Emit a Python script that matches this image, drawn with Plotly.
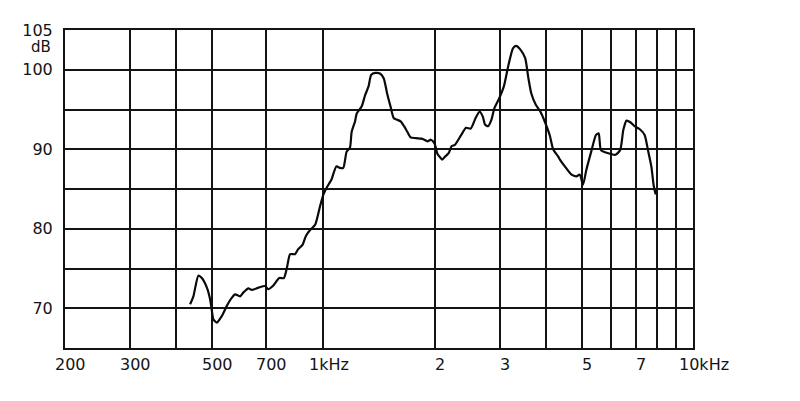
import math
import plotly.graph_objects as go

# Frequency response curve (Hz, dB)
freq_hz = [436, 445, 459, 469, 484, 494, 500, 504, 515, 531, 548, 565, 577, 595, 608, 627, 640,
           668, 695, 709, 730, 760, 782, 797, 813, 838, 854, 879, 897, 923, 950, 979, 990, 1000,
           1019, 1040, 1052, 1085, 1108, 1132, 1156, 1180, 1193, 1218, 1231, 1270, 1297, 1325,
           1347, 1382, 1426, 1457, 1487, 1519, 1551, 1585, 1618, 1653, 1687, 1722, 1778, 1855,
           1914, 1954, 2000, 2036, 2076, 2096, 2138, 2182, 2224, 2268, 2360, 2432, 2504, 2580,
           2646, 2700, 2738, 2790, 2848, 2904, 2990, 3078, 3168, 3258, 3321, 3417, 3516, 3582,
           3651, 3756, 3864, 3978, 4100, 4184, 4316, 4364, 4500, 4692, 4836, 4940, 5040, 5145,
           5305, 5465, 5555, 5635, 5810, 6000, 6168, 6354, 6480, 6612, 6768, 6948, 7168, 7399,
           7553, 7714, 7833, 7931]
level_db = [70.5, 71.5, 74.1, 73.8, 72.6, 71.1, 69.5, 68.6, 68.2, 69.0, 70.3, 71.3, 71.75, 71.5,
            72.0, 72.5, 72.3, 72.6, 72.8, 72.4, 72.8, 73.8, 73.8, 75.1, 76.8, 76.8, 77.4, 78.0,
            79.1, 79.9, 80.5, 82.8, 83.6, 84.3, 85.1, 85.8, 86.2, 87.85, 87.65, 87.65, 89.7, 90.2,
            92.2, 93.5, 94.5, 95.4, 96.8, 97.9, 99.35, 99.6, 99.5, 98.9, 97.05, 95.4, 93.9, 93.7,
            93.5, 92.9, 92.2, 91.5, 91.4, 91.3, 91.0, 91.2, 90.7, 89.4, 88.9, 88.7, 89.1, 89.5,
            90.4, 90.55, 91.8, 92.7, 92.6, 93.9, 94.75, 94.1, 93.1, 92.9, 93.7, 95.2, 96.4, 97.9,
            100.6, 102.7, 103.0, 102.5, 101.45, 99.1, 97.05, 95.6, 94.75, 93.4, 91.7, 90.0, 89.1,
            88.7, 87.85, 86.8, 86.6, 86.8, 85.55, 87.4, 89.7, 91.8, 92.0, 89.9, 89.6, 89.4, 89.3,
            89.9, 92.45, 93.6, 93.4, 92.9, 92.55, 91.8, 89.9, 87.85, 85.35, 84.3]

# Axis grid and labels
x_grid = [200, 300, 400, 500, 700, 1000, 2000, 3000, 4000, 5000, 6000, 7000, 8000, 9000, 10000]
x_label_vals = [200, 300, 500, 700, 1000, 2000, 3000, 5000, 7000, 10000]
x_label_text = ["200", "300", "500", "700", "1kHz", "2", "3", "5", "7", "10kHz"]
y_grid = [70, 75, 80, 85, 90, 95, 100, 105]
y_label_text = ["70", "", "80", "", "90", "", "100", "105"]
y_unit = "dB"
y_range = [65, 105]
x_range = [200, 10000]

FONT = "DejaVu Sans"
INK = "#141414"

fig = go.Figure()
fig.add_trace(go.Scatter(
    x=freq_hz, y=level_db, mode="lines",
    line=dict(color="#0a0a0a", width=2.2, shape="spline", smoothing=0.6),
    hoverinfo="skip", showlegend=False,
))

annotations = []
for val, txt in zip(x_label_vals, x_label_text):
    is_unit = txt.endswith("kHz")
    annotations.append(dict(
        x=math.log10(val), xref="x", y=0, yref="paper",
        text=txt, showarrow=False,
        xanchor="left" if is_unit else "center",
        xshift=-16 if is_unit else 5,
        yanchor="top", yshift=-5,
        font=dict(family=FONT, size=16, color=INK),
    ))
annotations.append(dict(
    x=0, xref="paper", y=y_range[1], yref="y", text=y_unit, showarrow=False,
    xanchor="right", xshift=-12, yanchor="top", yshift=-6,
    font=dict(family=FONT, size=15, color=INK),
))

# The page body adds an 8px offset, so the figure is sized to fit the window.
fig.update_layout(
    width=792, height=393,
    margin=dict(l=57, r=107, t=22, b=53),
    paper_bgcolor="white", plot_bgcolor="white",
    annotations=annotations,
    xaxis=dict(
        type="log", range=[math.log10(x_range[0]), math.log10(x_range[1])],
        tickvals=x_grid, showticklabels=False, ticks="",
        showgrid=True, gridcolor=INK, gridwidth=1.6,
        showline=True, linecolor=INK, linewidth=2, mirror=True,
        zeroline=False, fixedrange=True, automargin=False,
    ),
    yaxis=dict(
        range=y_range, tickvals=y_grid, ticktext=y_label_text,
        ticks="", ticklabelstandoff=7,
        tickfont=dict(family=FONT, size=16, color=INK),
        showgrid=True, gridcolor=INK, gridwidth=1.6,
        showline=True, linecolor=INK, linewidth=2, mirror=True,
        zeroline=False, fixedrange=True, automargin=False,
    ),
)

fig.write_html("out.html")
